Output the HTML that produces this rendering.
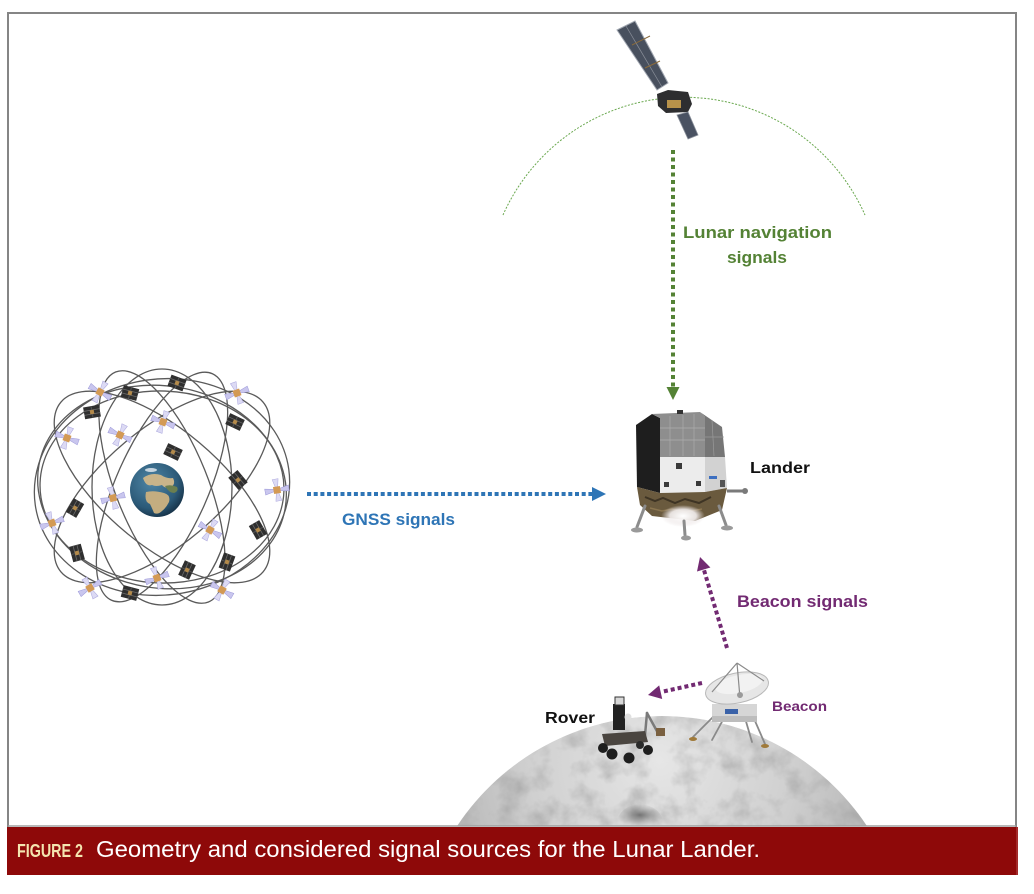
<!DOCTYPE html>
<html><head><meta charset="utf-8"><style>
html,body{margin:0;padding:0;background:#fff;width:1034px;height:894px;overflow:hidden;}
svg{display:block;}
</style></head><body>
<svg width="1034" height="894" viewBox="0 0 1034 894" xmlns="http://www.w3.org/2000/svg">
<defs>
  <radialGradient id="moonG" gradientUnits="userSpaceOnUse" cx="660" cy="760" r="260">
    <stop offset="0" stop-color="#e6e6e6"/>
    <stop offset="0.5" stop-color="#d0d0d0"/>
    <stop offset="1" stop-color="#acacac"/>
  </radialGradient>
  <filter id="moonTex" x="0" y="0" width="1" height="1">
    <feTurbulence type="fractalNoise" baseFrequency="0.04" numOctaves="4" seed="5" result="n"/>
    <feColorMatrix in="n" type="matrix" values="0 0 0 0 0.35  0 0 0 0 0.35  0 0 0 0 0.35  1.5 0 0 0 -0.64" result="dark"/>
    <feComposite in="dark" in2="SourceGraphic" operator="over" result="b"/>
    <feComposite in="b" in2="SourceGraphic" operator="in"/>
  </filter>
  <radialGradient id="crater" cx="0.5" cy="0.5" r="0.5">
    <stop offset="0" stop-color="#5e5e5e" stop-opacity="0.8"/>
    <stop offset="1" stop-color="#8a8a8a" stop-opacity="0"/>
  </radialGradient>
  <radialGradient id="earthG" cx="0.4" cy="0.35" r="0.7">
    <stop offset="0" stop-color="#4f86a6"/>
    <stop offset="0.7" stop-color="#2c5a78"/>
    <stop offset="1" stop-color="#152f44"/>
  </radialGradient>
  <radialGradient id="glow" cx="0.5" cy="0.5" r="0.5">
    <stop offset="0" stop-color="#ffffff"/>
    <stop offset="0.6" stop-color="#f4f0f0" stop-opacity="0.9"/>
    <stop offset="1" stop-color="#e8e0e0" stop-opacity="0"/>
  </radialGradient>
  <g id="ds">
    <rect x="-8" y="-6" width="16" height="12" fill="#2f2f2f"/>
    <line x1="-8" y1="-2" x2="8" y2="-2" stroke="#6a6a6a" stroke-width="0.8"/>
    <line x1="-8" y1="2" x2="8" y2="2" stroke="#6a6a6a" stroke-width="0.8"/>
    <line x1="0" y1="-6" x2="0" y2="6" stroke="#555" stroke-width="1"/>
    <rect x="-2" y="-2" width="4" height="4" fill="#b48a4a"/>
  </g>
  <g id="ls">
    <polygon points="-12,-3 -2,-1 -2,1 -12,3" fill="#c9c6ee" stroke="#9c98d8" stroke-width="0.5"/>
    <polygon points="12,-3 2,-1 2,1 12,3" fill="#c9c6ee" stroke="#9c98d8" stroke-width="0.5"/>
    <polygon points="-3,-11 -1,-2 1,-2 3,-11" fill="#dcdaf4" stroke="#a8a4dc" stroke-width="0.5"/>
    <polygon points="-3,11 -1,2 1,2 3,11" fill="#dcdaf4" stroke="#a8a4dc" stroke-width="0.5"/>
    <rect x="-3.5" y="-3.5" width="7" height="7" fill="#d39a55"/>
  </g>
</defs>

<rect width="1034" height="894" fill="#ffffff"/>

<!-- Moon -->
<path d="M457 826 A246 246 0 0 1 867 826 Z" fill="url(#moonG)" filter="url(#moonTex)"/>
<path d="M616 826 Q618 806 640 804 Q662 806 664 826 Z" fill="url(#crater)"/>

<!-- Frame -->
<path d="M8 827 V13 H1016 V827" fill="none" stroke="#858585" stroke-width="2"/>
<line x1="8" y1="826" x2="1016" y2="826" stroke="#a0a0a0" stroke-width="1.5"/>

<!-- Orbit arc -->
<path d="M503 215 A198 198 0 0 1 865 215" fill="none" stroke="#6aa84f" stroke-width="1" stroke-dasharray="2 1.5"/>

<!-- Top satellite -->
<g>
  <polygon points="617,30 635,21 668,83 657,90" fill="#48505e" stroke="#a0a6b0" stroke-width="1"/>
  <line x1="626" y1="26" x2="662" y2="87" stroke="#8a8f99" stroke-width="0.7"/>
  <line x1="632" y1="45" x2="650" y2="36" stroke="#8a6a3a" stroke-width="1"/>
  <line x1="645" y1="68" x2="660" y2="61" stroke="#8a6a3a" stroke-width="1"/>
  <polygon points="657,94 668,90 688,92 692,104 688,112 666,113 658,106" fill="#2e2e30"/>
  <rect x="667" y="100" width="14" height="8" fill="#b8924a"/>
  <polygon points="677,115 688,112 698,135 688,139" fill="#4a5262" stroke="#8a909a" stroke-width="0.8"/>
</g>

<!-- Green dotted arrow -->
<line x1="673" y1="150" x2="673" y2="387" stroke="#548235" stroke-width="4" stroke-dasharray="4 3.5"/>
<polygon points="666.5,387 679.5,387 673,400" fill="#548235"/>
<text x="683" y="238" font-family="'Liberation Sans', Arial, sans-serif" font-weight="bold" font-size="17" fill="#548235" textLength="149" lengthAdjust="spacingAndGlyphs">Lunar navigation</text>
<text x="727" y="263" font-family="'Liberation Sans', Arial, sans-serif" font-weight="bold" font-size="17" fill="#548235" textLength="60" lengthAdjust="spacingAndGlyphs">signals</text>

<!-- GNSS constellation -->
<g transform="translate(162,487)" fill="none" stroke="#5a5a5a" stroke-width="1.3">
  <ellipse rx="128" ry="108" transform="rotate(-8)"/>
  <ellipse rx="125" ry="101" transform="rotate(10)"/>
  <ellipse rx="122" ry="96" transform="rotate(2)"/>
  <ellipse rx="132" ry="58" transform="rotate(40)"/>
  <ellipse rx="132" ry="58" transform="rotate(-40)"/>
  <ellipse rx="124" ry="46" transform="rotate(68)"/>
  <ellipse rx="124" ry="46" transform="rotate(-66)"/>
  <ellipse rx="118" ry="70" transform="rotate(90)"/>
</g>
<g>
  <circle cx="157" cy="490" r="27" fill="url(#earthG)"/>
  <path d="M143 478 q8 -6 18 -3 q6 4 12 3 q3 6 -2 9 q-6 2 -9 -2 q-6 2 -10 0 q-6 2 -9 -7z" fill="#c9b48a"/>
  <path d="M146 492 q8 -2 18 1 q7 2 5 9 q-3 6 -7 9 q-4 4 -8 2 q-2 -5 -4 -9 q-6 -2 -4 -12z" fill="#c4ad80"/>
  <path d="M165 486 q6 -2 12 1 q2 4 -3 6 q-5 0 -9 -7z" fill="#6b7f4f"/>
  <ellipse cx="151" cy="470" rx="6" ry="2" fill="#e8eef2" opacity="0.8"/>
</g>
<use href="#ds" transform="translate(177,383) rotate(20)"/>
<use href="#ds" transform="translate(130,393) rotate(15)"/>
<use href="#ds" transform="translate(92,412) rotate(-10)"/>
<use href="#ds" transform="translate(235,422) rotate(25)"/>
<use href="#ds" transform="translate(173,452) rotate(25)"/>
<use href="#ds" transform="translate(238,480) rotate(50)"/>
<use href="#ds" transform="translate(75,508) rotate(-60)"/>
<use href="#ds" transform="translate(258,530) rotate(60)"/>
<use href="#ds" transform="translate(77,553) rotate(75)"/>
<use href="#ds" transform="translate(187,570) rotate(-65)"/>
<use href="#ds" transform="translate(227,562) rotate(-70)"/>
<use href="#ds" transform="translate(130,593) rotate(15)"/>
<use href="#ls" transform="translate(100,392) rotate(30)"/>
<use href="#ls" transform="translate(237,393) rotate(-20)"/>
<use href="#ls" transform="translate(163,422) rotate(20)"/>
<use href="#ls" transform="translate(120,435) rotate(25)"/>
<use href="#ls" transform="translate(67,438) rotate(20)"/>
<use href="#ls" transform="translate(277,490) rotate(-10)"/>
<use href="#ls" transform="translate(113,498) rotate(-15)"/>
<use href="#ls" transform="translate(52,523) rotate(-20)"/>
<use href="#ls" transform="translate(210,530) rotate(30)"/>
<use href="#ls" transform="translate(157,578) rotate(-20)"/>
<use href="#ls" transform="translate(90,588) rotate(-30)"/>
<use href="#ls" transform="translate(222,590) rotate(30)"/>

<!-- Blue GNSS arrow -->
<line x1="307" y1="494" x2="592" y2="494" stroke="#2e75b6" stroke-width="4" stroke-dasharray="4 2.7"/>
<polygon points="592,487 606,494 592,501" fill="#2e75b6"/>
<text x="342" y="525" font-family="'Liberation Sans', Arial, sans-serif" font-weight="bold" font-size="17" fill="#2e75b6" textLength="113" lengthAdjust="spacingAndGlyphs">GNSS signals</text>

<!-- Lander -->
<g>
  <polygon points="636,425 652,414 660,418 660,493 637,487" fill="#1e1e1e"/>
  <polygon points="652,414 700,412 705,417 705,457 660,457 660,418" fill="#8e8e8e"/>
  <g stroke="#adadad" stroke-width="0.7">
    <line x1="670" y1="416" x2="670" y2="456"/><line x1="683" y1="415" x2="683" y2="456"/><line x1="694" y1="414" x2="694" y2="456"/>
    <line x1="660" y1="428" x2="705" y2="428"/><line x1="660" y1="440" x2="705" y2="440"/>
  </g>
  <rect x="677" y="410" width="6" height="4" fill="#333"/>
  <polygon points="700,412 722,427 725,457 705,457 705,417" fill="#767676"/>
  <g stroke="#9a9a9a" stroke-width="0.7"><line x1="712" y1="420" x2="714" y2="456"/><line x1="705" y1="437" x2="724" y2="437"/></g>
  <polygon points="660,457 705,457 705,492 660,493" fill="#ececec"/>
  <polygon points="705,457 725,457 727,488 705,492" fill="#d2d2d2"/>
  <rect x="676" y="463" width="6" height="6" fill="#3a3a3a"/>
  <rect x="664" y="482" width="5" height="5" fill="#3a3a3a"/>
  <rect x="696" y="481" width="5" height="5" fill="#3a3a3a"/>
  <rect x="709" y="476" width="8" height="3" fill="#3d6fc0"/>
  <rect x="720" y="480" width="5" height="7" fill="#555"/>
  <polygon points="637,487 660,493 705,492 727,488 722,510 695,521 652,516 640,505" fill="#6a5a3e"/>
  <path d="M645 497 l10 4 l8 -3 l12 5 l10 -4 l14 4 l12 -6" fill="none" stroke="#3e3424" stroke-width="2"/>
  <path d="M650 508 l12 3 l10 -2 l14 3 l16 -3" fill="none" stroke="#8a7550" stroke-width="1.5"/>
  <ellipse cx="683" cy="516" rx="22" ry="11" fill="url(#glow)"/>
  <g stroke="#8c8c8c" stroke-width="3" fill="none" stroke-linecap="round">
    <line x1="645" y1="506" x2="637" y2="527"/>
    <line x1="719" y1="506" x2="726" y2="525"/>
    <line x1="684" y1="521" x2="685" y2="535"/>
  </g>
  <ellipse cx="637" cy="530" rx="6" ry="2.5" fill="#9a9a9a"/>
  <ellipse cx="727" cy="528" rx="6" ry="2.5" fill="#9a9a9a"/>
  <ellipse cx="686" cy="538" rx="5" ry="2.5" fill="#9a9a9a"/>
  <line x1="727" y1="491" x2="743" y2="491" stroke="#7a7a7a" stroke-width="3"/>
  <circle cx="745" cy="491" r="3" fill="#7a7a7a"/>
</g>
<text x="750" y="473" font-family="'Liberation Sans', Arial, sans-serif" font-weight="bold" font-size="16" fill="#111" textLength="60" lengthAdjust="spacingAndGlyphs">Lander</text>

<!-- Purple beacon signal arrows -->
<line x1="727" y1="648" x2="704" y2="570" stroke="#722a72" stroke-width="4" stroke-dasharray="4 3"/>
<polygon points="700,557 710.4,567.5 697,571.5" fill="#722a72"/>
<text x="737" y="607" font-family="'Liberation Sans', Arial, sans-serif" font-weight="bold" font-size="17" fill="#722a72" textLength="131" lengthAdjust="spacingAndGlyphs">Beacon signals</text>
<line x1="702" y1="683" x2="661" y2="692" stroke="#722a72" stroke-width="4" stroke-dasharray="4 3"/>
<polygon points="648,695 659.2,685.4 662.2,699" fill="#722a72"/>

<!-- Beacon -->
<g>
  <g stroke="#8a8a8a" stroke-width="1.8" stroke-linecap="round">
    <line x1="716" y1="714" x2="693" y2="737"/>
    <line x1="752" y1="714" x2="765" y2="744"/>
    <line x1="724" y1="718" x2="712" y2="740"/>
    <line x1="745" y1="718" x2="752" y2="742"/>
  </g>
  <ellipse cx="693" cy="739" rx="4" ry="2" fill="#a07a3a"/>
  <ellipse cx="765" cy="746" rx="4" ry="2" fill="#a07a3a"/>
  <rect x="712" y="704" width="45" height="18" fill="#d6d6d6"/>
  <rect x="712" y="716" width="45" height="6" fill="#bdbdbd"/>
  <rect x="725" y="709" width="13" height="5" fill="#3a62a8"/>
  <ellipse cx="737" cy="688" rx="32" ry="15" transform="rotate(-12 737 688)" fill="#e6e6e6" stroke="#b8b8b8" stroke-width="1"/>
  <ellipse cx="739" cy="684" rx="24" ry="9" transform="rotate(-12 739 684)" fill="#f2f2f2"/>
  <g stroke="#8a8a8a" stroke-width="1.2">
    <line x1="712" y1="692" x2="737" y2="663"/>
    <line x1="764" y1="681" x2="737" y2="663"/>
    <line x1="740" y1="698" x2="737" y2="663"/>
  </g>
  <circle cx="740" cy="695" r="3" fill="#9a9a9a"/>
</g>
<text x="772" y="711" font-family="'Liberation Sans', Arial, sans-serif" font-weight="bold" font-size="14" fill="#722a72" textLength="55" lengthAdjust="spacingAndGlyphs">Beacon</text>

<!-- Rover -->
<g>
  <rect x="613" y="704" width="12" height="26" fill="#222"/>
  <rect x="615" y="697" width="9" height="8" fill="#d8d8d8" stroke="#333" stroke-width="1"/>
  <circle cx="628" cy="717" r="3.5" fill="#e0e0e0"/>
  <g stroke="#7a7a7a" stroke-width="2.5" fill="none" stroke-linecap="round">
    <line x1="645" y1="735" x2="647" y2="713"/>
    <line x1="647" y1="713" x2="658" y2="733"/>
  </g>
  <rect x="656" y="728" width="9" height="8" fill="#7a6040"/>
  <polygon points="602,734 645,731 648,742 605,746" fill="#4a4540"/>
  <circle cx="603" cy="748" r="5" fill="#1e1e1e"/>
  <circle cx="612" cy="754" r="5.5" fill="#1e1e1e"/>
  <circle cx="629" cy="758" r="5.5" fill="#1e1e1e"/>
  <circle cx="648" cy="750" r="5" fill="#1e1e1e"/>
  <circle cx="640" cy="745" r="4" fill="#2a2a2a"/>
</g>
<text x="545" y="723" font-family="'Liberation Sans', Arial, sans-serif" font-weight="bold" font-size="16" fill="#111" textLength="50" lengthAdjust="spacingAndGlyphs">Rover</text>

<!-- Caption bar -->
<rect x="7" y="827" width="1011" height="48" fill="#8e0909"/>
<line x1="1017" y1="827" x2="1017" y2="875" stroke="#b84a4a" stroke-width="1"/>
<text x="17" y="857" font-family="'Liberation Sans', Arial, sans-serif" font-weight="bold" font-size="18" fill="#f4e5b0" textLength="66" lengthAdjust="spacingAndGlyphs">FIGURE 2</text>
<text x="96" y="857" font-family="'Liberation Sans', Arial, sans-serif" font-size="23" fill="#ffffff" textLength="664" lengthAdjust="spacingAndGlyphs">Geometry and considered signal sources for the Lunar Lander.</text>
</svg>
</body></html>
